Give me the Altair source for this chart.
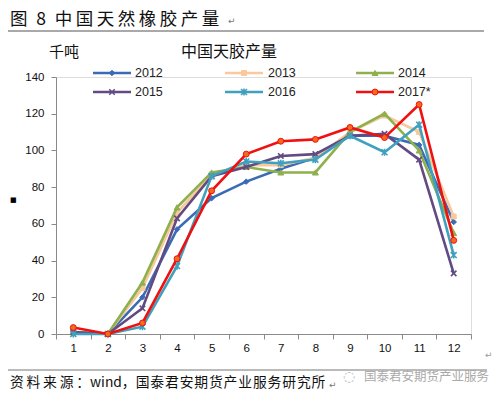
import altair as alt
import pandas as pd

months = [str(m) for m in range(1, 13)]
series = ["2012", "2013", "2014", "2015", "2016", "2017*"]
v2012 = [1, 0, 20, 57, 74, 83, 90, 96, 108, 108, 103, 61]
v2013 = [1, 0, 25, 66, 87, 92, 92, 96, 110, 119, 110, 64]
v2014 = [1, 0, 28, 69, 88, 91, 88, 88, 110, 120, 100, 55]
v2015 = [1, 0, 14, 63, 86, 91, 97, 98, 108, 109, 95, 33]
v2016 = [0, 0, 4, 37, 86, 94, 93, 95, 108, 99, 114, 43]
v2017 = [3.5, 0, 6, 41, 78, 98, 105, 106, 112.5, 107, 125, 51]
values = [v2012, v2013, v2014, v2015, v2016, v2017]

colors = ["#3A6BB5", "#F9C89B", "#8EB04D", "#624A83", "#3FA1BE", "#F01010"]
fills = ["#3A6BB5", "#F9C89B", "#8EB04D", None, None, "#F26B1D"]
XPATH = "M-1,-1L1,1M-1,1L1,-1"
STAR = "M-1,-1L1,1M-1,1L1,-1M0,-1.2L0,1.2"
shapes = ["diamond", "square", "triangle-up", XPATH, STAR, "circle"]
sizes = [30, 25, 35, 30, 35, 35]

FONT = "Noto Sans CJK SC"
LAT = "Liberation Sans"

W, H = 415, 257

xenc = alt.X("month:O", sort=months, title=None,
             scale=alt.Scale(type="band", paddingInner=0, paddingOuter=0),
             axis=alt.Axis(tickBand="extent", labelAngle=0, tickSize=5,
                           labelPadding=3, labelFontSize=11.5, labelColor="#111",
                           labelFont=LAT, domainColor="#8a8a8a", tickColor="#8a8a8a",
                           grid=False))
yenc = alt.Y("value:Q", title=None,
             scale=alt.Scale(domain=[0, 140]),
             axis=alt.Axis(values=list(range(0, 141, 20)), tickSize=5,
                           labelPadding=7, labelFontSize=11.5, labelColor="#111",
                           labelFont=LAT, domainColor="#8a8a8a", tickColor="#8a8a8a",
                           grid=False))

layers = []
for i, name in enumerate(series):
    df = pd.DataFrame({"month": months, "value": values[i], "series": name})
    base = alt.Chart(df).encode(x=xenc, y=yenc)
    layers.append(base.mark_line(color=colors[i], strokeWidth=2.6))
    if fills[i] is None:
        pt = base.mark_point(shape=shapes[i], size=sizes[i], filled=False,
                             stroke=colors[i], strokeWidth=1.6, opacity=1)
    else:
        pt = base.mark_point(shape=shapes[i], size=sizes[i], filled=True,
                             fill=fills[i], stroke=colors[i], strokeWidth=1, opacity=1)
    layers.append(pt)

# legend (manual, Excel style)
col_line_x = [37, 169, 300]
col_label_x = [79, 212, 342]
row_y = [-4, 15]
for i, name in enumerate(series):
    c, r = i % 3, i // 3
    ldf = pd.DataFrame({"series": [name]})
    lb = alt.Chart(ldf)
    layers.append(lb.mark_rule(color=colors[i], strokeWidth=2.6).encode(
        x=alt.value(col_line_x[c]), x2=alt.value(col_line_x[c] + 38),
        y=alt.value(row_y[r])))
    if fills[i] is None:
        lp = lb.mark_point(shape=shapes[i], size=sizes[i], filled=False,
                           stroke=colors[i], strokeWidth=1.6, opacity=1)
    else:
        lp = lb.mark_point(shape=shapes[i], size=sizes[i], filled=True,
                           fill=fills[i], stroke=colors[i], strokeWidth=1, opacity=1)
    layers.append(lp.encode(x=alt.value(col_line_x[c] + 19), y=alt.value(row_y[r])))
    layers.append(lb.mark_text(align="left", baseline="middle", fontSize=12.5,
                               font=LAT, color="#222").encode(
        x=alt.value(col_label_x[c]), y=alt.value(row_y[r]), text="series:N"))

def label(txt, x, y, size, font=FONT, color="#111", align="left"):
    return alt.Chart(pd.DataFrame({"t": [txt]})).mark_text(
        align=align, baseline="middle", fontSize=size, font=font, color=color
    ).encode(x=alt.value(x), y=alt.value(y), text="t:N")

def hline(x1, x2, y, color="#555", w=1.2):
    return alt.Chart(pd.DataFrame({"a": [0]})).mark_rule(color=color, strokeWidth=w).encode(
        x=alt.value(x1), x2=alt.value(x2), y=alt.value(y))

SP = "\u2009"
title_txt = "图\u2002" + "8\u2002" + SP.join("中国天然橡胶产量")
footer_txt = SP.join("资料来源：") + "wind，" + "\u200a".join("国泰君安期货产业服务研究所")

layers += [
    label(title_txt, -46, -57, 17.5),
    label("↵", 172, -56, 9, font="DejaVu Sans", color="#777"),
    hline(-48, 428, -46),
    label("千吨", -7, -25, 15),
    label("中国天胶产量", 125, -25, 16),
    label("■", -46, 123, 7, font="DejaVu Sans", color="#000"),
    hline(-48, 431, 293, color="#777", w=1),
    label(footer_txt, -46, 306, 13.8),
    label("↵", 273, 308, 9, font="DejaVu Sans", color="#777"),
    label("◌", 287, 300, 14, font="DejaVu Sans", color="#bbb"),
    label("国泰君安期货产业服务", 308, 300, 12.5, color="#aaa"),
    label("↵", 429, 278, 9, font="DejaVu Sans", color="#999"),
]

chart = alt.layer(*layers).properties(
    width=W, height=H,
    autosize=alt.AutoSizeParams(type="none"),
    padding={"left": 48, "top": 69, "right": 21, "bottom": 57},
).configure_view(stroke=None).configure(background="white")

chart.save("out.html", embed_options={"renderer": "svg", "actions": False})
